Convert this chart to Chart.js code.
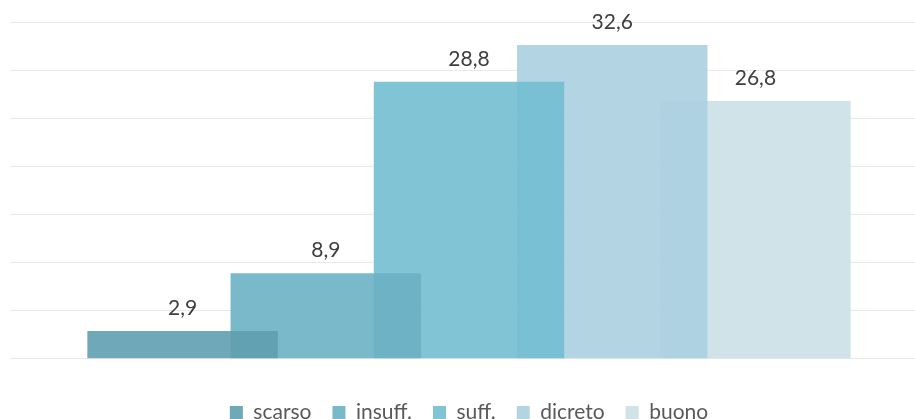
<!DOCTYPE html>
<html>
<head>
<meta charset="utf-8">
<script src="https://cdn.jsdelivr.net/npm/chart.js@4.4.1/dist/chart.umd.min.js"></script>
<style>
  html, body { margin: 0; padding: 0; background: #fff; overflow: hidden; }
  #wrap { width: 928px; height: 419px; }
</style>
</head>
<body>
<div id="wrap"><canvas id="chart"></canvas></div>
<script>
const categories = [''];
const seriesNames = ['scarso', 'insuff.', 'suff.', 'dicreto', 'buono'];
const seriesValues = [2.9, 8.9, 28.8, 32.6, 26.8];
const seriesColors = [
  'rgba(95, 158, 176, 0.9)',
  'rgba(107, 177, 195, 0.9)',
  'rgba(114, 190, 209, 0.9)',
  'rgba(172, 208, 225, 0.92)',
  'rgba(202, 224, 231, 0.9)'
];

const FONT = 'Lato, "Open Sans", sans-serif';

// value labels above each bar, Italian decimal comma
const valueLabels = {
  id: 'valueLabels',
  afterDatasetsDraw(chart) {
    const ctx = chart.ctx;
    ctx.save();
    ctx.font = '21px ' + FONT;
    ctx.fillStyle = '#404040';
    ctx.textAlign = 'center';
    ctx.textBaseline = 'alphabetic';
    chart.data.datasets.forEach((ds, i) => {
      const bar = chart.getDatasetMeta(i).data[0];
      ctx.fillText(ds.data[0].toFixed(1).replace('.', ','), bar.x, bar.y - 16);
    });
    ctx.restore();
  }
};

new Chart(document.getElementById('chart'), {
  type: 'bar',
  data: {
    labels: categories,
    datasets: seriesNames.map((name, i) => ({
      label: name,
      data: [seriesValues[i]],
      backgroundColor: seriesColors[i],
      borderWidth: 0,
      categoryPercentage: 0.78,
      barPercentage: 1.33
    }))
  },
  options: {
    responsive: true,
    maintainAspectRatio: false,
    animation: false,
    layout: { padding: { top: 22, left: 10, right: 0, bottom: -14 } },
    scales: {
      x: {
        grid: { display: false },
        border: { display: false },
        ticks: { font: { size: 6 }, padding: 3.5 }
      },
      y: {
        min: 0,
        max: 35,
        ticks: { display: false, stepSize: 5 },
        border: { display: false },
        grid: { color: '#e8e8e8', lineWidth: 1, drawTicks: false }
      }
    },
    plugins: {
      legend: {
        position: 'bottom',
        labels: {
          boxWidth: 13,
          boxHeight: 13,
          padding: 21,
          color: '#595959',
          font: { family: FONT, size: 21 }
        }
      },
      tooltip: { enabled: false }
    }
  },
  plugins: [valueLabels]
});
</script>
</body>
</html>
